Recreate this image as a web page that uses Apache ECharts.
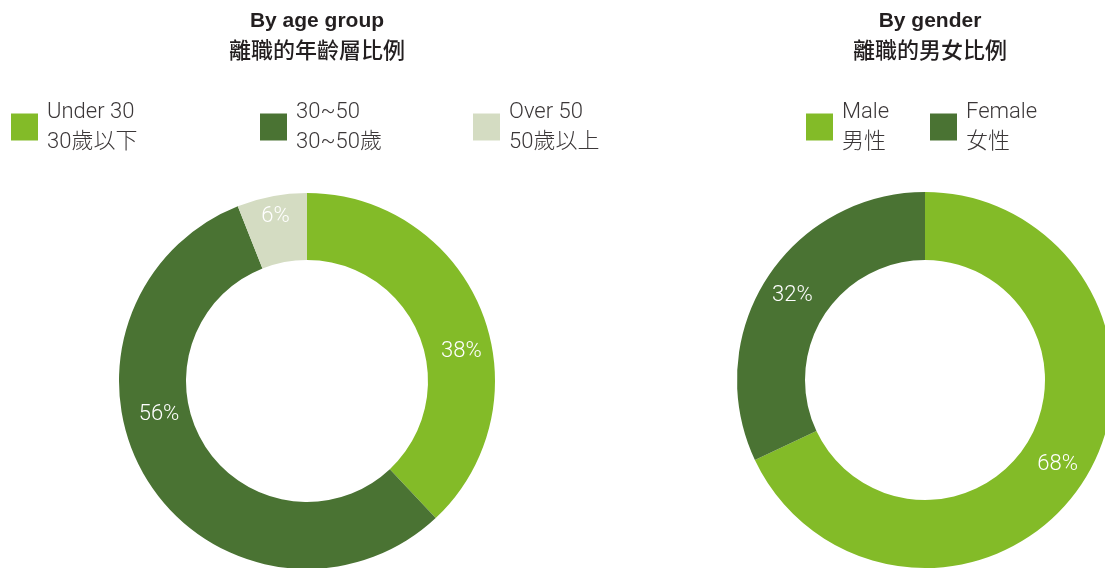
<!DOCTYPE html>
<html>
<head>
<meta charset="utf-8">
<script src="https://cdn.jsdelivr.net/npm/echarts@6/dist/echarts.min.js"></script>
<style>
html,body{margin:0;padding:0;background:#fff;}
#chart{width:1105px;height:568px;}
</style>
</head>
<body>
<div id="chart"></div>
<script>
// ---- data ----
const ageTitleEn = 'By age group';
const ageTitleZh = '離職的年齡層比例';
const ageNamesEn = ['Under 30', '30~50', 'Over 50'];
const ageNamesZh = ['30歲以下', '30~50歲', '50歲以上'];
const ageValues = [38, 56, 6];

const genderTitleEn = 'By gender';
const genderTitleZh = '離職的男女比例';
const genderNamesEn = ['Male', 'Female'];
const genderNamesZh = ['男性', '女性'];
const genderValues = [68, 32];

// ---- styles ----
const LIGHT = '#83bb28';
const DARK = '#4a7333';
const PALE = '#d4dcc2';
const ageColors = [LIGHT, DARK, PALE];
const genderColors = [LIGHT, DARK];
const FONT = 'Roboto, "Noto Sans CJK TC", sans-serif';
const ageLabelShift = [[8, 28], [-15, -51], [-2, -10]];

const chart = echarts.init(document.getElementById('chart'), null, {renderer: 'canvas'});

const zhMap = {};
ageNamesEn.forEach((n, i) => zhMap[n] = ageNamesZh[i]);
genderNamesEn.forEach((n, i) => zhMap[n] = genderNamesZh[i]);

function makeLegend(name, left) {
  return {
    data: [name],
    left: left,
    top: 97,
    padding: 0,
    orient: 'horizontal',
    itemWidth: 27,
    itemHeight: 27,
    icon: 'rect',
    selectedMode: false,
    formatter: n => n + '\n' + zhMap[n],
    textStyle: {
      fontFamily: FONT,
      fontSize: 22,
      fontWeight: 300,
      lineHeight: 30,
      color: '#3b3738',
      padding: [0, 0, 0, 4]
    }
  };
}

const labelBase = {
  show: true,
  position: 'inside',
  color: '#ffffff',
  fontFamily: FONT,
  fontSize: 22,
  fontWeight: 300,
  formatter: p => p.value + '%'
};

function makeTitle(en, zh, x) {
  return {
    text: en, subtext: zh,
    left: x, top: 6, textAlign: 'center', itemGap: 7,
    textStyle: {fontFamily: 'Liberation Sans, "Noto Sans CJK TC"', fontSize: 21, fontWeight: 'bold', color: '#231f20'},
    subtextStyle: {fontFamily: '"Noto Sans CJK TC"', fontSize: 22, fontWeight: 500, color: '#231f20'}
  };
}

const option = {
  backgroundColor: '#ffffff',
  animation: false,
  title: [
    makeTitle(ageTitleEn, ageTitleZh, 312),
    makeTitle(genderTitleEn, genderTitleZh, 925)
  ],
  legend: [
    makeLegend(ageNamesEn[0], 11),
    makeLegend(ageNamesEn[1], 260),
    makeLegend(ageNamesEn[2], 473),
    makeLegend(genderNamesEn[0], 806),
    makeLegend(genderNamesEn[1], 930)
  ],
  series: [
    {
      type: 'pie',
      center: [307, 381],
      radius: [121, 188],
      startAngle: 90,
      clockwise: true,
      avoidLabelOverlap: false,
      emphasis: {disabled: true},
      label: labelBase,
      labelLine: {show: false},
      data: ageNamesEn.map((n, i) => ({
        name: n, value: ageValues[i],
        itemStyle: {color: ageColors[i]},
        label: {offset: ageLabelShift[i]}
      }))
    },
    {
      type: 'pie',
      center: [925, 380],
      radius: [120, 188],
      startAngle: 90,
      clockwise: true,
      avoidLabelOverlap: false,
      emphasis: {disabled: true},
      label: labelBase,
      labelLine: {show: false},
      data: genderNamesEn.map((n, i) => ({
        name: n, value: genderValues[i],
        itemStyle: {color: genderColors[i]}
      }))
    }
  ]
};

chart.setOption(option);
</script>
</body>
</html>
